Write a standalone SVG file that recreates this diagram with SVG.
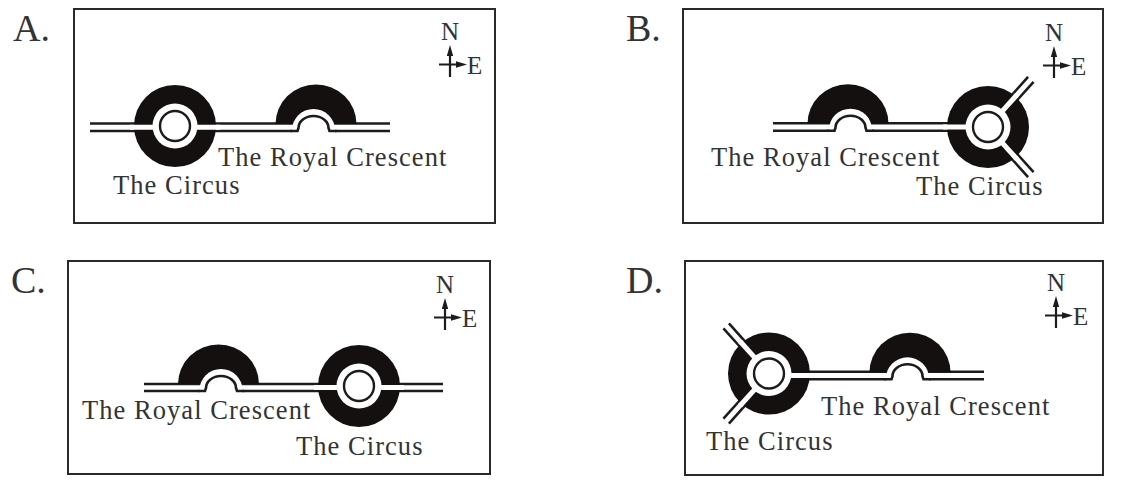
<svg xmlns="http://www.w3.org/2000/svg" xmlns:xlink="http://www.w3.org/1999/xlink" width="1125" height="485" viewBox="0 0 1125 485">
<style>
text{font-family:"Liberation Serif","Times New Roman",serif;fill:#333}
.lab{font-size:26.500px;letter-spacing:1.050px}
.let{font-size:38px}
.cmp{font-size:25px}
.frame{fill:none;stroke:#2a2a2a;stroke-width:2}
.road{fill:none;stroke:#1c1c1c;stroke-width:2.600}
.k{fill:#141010}
.w{fill:#fff}
.gap{stroke:#fff;stroke-width:5;fill:none}
.thin{fill:#fff;stroke:#1c1c1c;stroke-width:2.400}
.arch{fill:none;stroke:#1c1c1c;stroke-width:2.600}
.cl{stroke:#1c1c1c;stroke-width:2.200;fill:none}
</style>
<defs>
<g id="circus">
<circle class="k" r="41"/>
<circle class="w" r="22.500"/>
<circle class="thin" r="15"/>
</g>
<path id="dome" class="k" d="M-40.500-7A40.500 39.500 0 0 1 40.500-7Z"/>
<g id="arch">
<path class="w" d="M-21.500 2V-1A21.500 21 0 0 1 21.500-1V2Z"/>
<path class="arch" d="M-23 0H-16L-15-3A15 12 0 0 1 15-3L16 0H23"/>
</g>
<g id="compass">
<path class="cl" d="M0 8V32M-11 19.500H8"/>
<path fill="#1c1c1c" d="M0 0L3.200 11H-3.200ZM17 19.500L6 16.300V22.700Z"/>
</g>
<g id="spoke">
<line class="road" x1="40" y1="-3.700" x2="64" y2="-3.700"/>
<line class="road" x1="40" y1="3.700" x2="64" y2="3.700"/>
</g>
<line id="spokegap" class="gap" x1="20" y1="0" x2="43" y2="0"/>
</defs>
<rect width="1125" height="485" fill="#fff"/>
<g id="connectors">
<path class="road" d="M90 123.500H140M90 131H140M210 123.500H390M210 131H390"/>
<path class="road" d="M773 123.300H950M773 130.700H950"/>
<path class="road" d="M144 384H325M144 391H325M395 384H443M395 391H443"/>
<path class="road" d="M805 371.700H984M805 379.300H984"/>
<use href="#spoke" transform="translate(988 127) rotate(-48)"/>
<use href="#spoke" transform="translate(988 127) rotate(48)"/>
<use href="#spoke" transform="translate(769 373.500) rotate(-132)"/>
<use href="#spoke" transform="translate(769 373.500) rotate(132)"/>
</g>
<g id="panel-a">
<rect class="frame" x="74" y="9" width="421" height="214"/>
<text class="let" x="13" y="41">A.</text>
<g id="a-circus">
<use href="#circus" x="175" y="126"/>
<path class="gap" d="M130 127.300H155M195 127.300H220"/>
<text class="lab" x="113" y="194">The Circus</text>
</g>
<g id="a-crescent">
<use href="#dome" x="316" y="131"/>
<use href="#arch" x="313.500" y="131"/>
<text class="lab" x="218" y="166">The Royal Crescent</text>
</g>
<g id="a-compass">
<use href="#compass" x="450" y="45"/>
<text class="cmp" x="450" y="40" text-anchor="middle">N</text>
<text class="cmp" x="467" y="74">E</text>
</g>
</g>
<g id="panel-b">
<rect class="frame" x="683" y="9" width="420" height="214"/>
<text class="let" x="626" y="41">B.</text>
<g id="b-circus">
<use href="#circus" x="988" y="127"/>
<path class="gap" d="M943 127H968"/>
<use href="#spokegap" transform="translate(988 127) rotate(-48)"/>
<use href="#spokegap" transform="translate(988 127) rotate(48)"/>
<text class="lab" x="916" y="195">The Circus</text>
</g>
<g id="b-crescent">
<use href="#dome" x="848" y="130.700"/>
<use href="#arch" x="850.500" y="130.700"/>
<text class="lab" x="711" y="166">The Royal Crescent</text>
</g>
<g id="b-compass">
<use href="#compass" x="1054" y="46"/>
<text class="cmp" x="1054" y="41" text-anchor="middle">N</text>
<text class="cmp" x="1071" y="75">E</text>
</g>
</g>
<g id="panel-c">
<rect class="frame" x="68" y="261" width="422" height="213"/>
<text class="let" x="11" y="293">C.</text>
<g id="c-circus">
<use href="#circus" x="359" y="386"/>
<path class="gap" d="M314 387.500H339M379 387.500H404"/>
<text class="lab" x="296" y="455">The Circus</text>
</g>
<g id="c-crescent">
<use href="#dome" x="218.500" y="391"/>
<use href="#arch" x="221" y="391"/>
<text class="lab" x="82" y="419">The Royal Crescent</text>
</g>
<g id="c-compass">
<use href="#compass" x="445" y="298"/>
<text class="cmp" x="445" y="293" text-anchor="middle">N</text>
<text class="cmp" x="462" y="327">E</text>
</g>
</g>
<g id="panel-d">
<rect class="frame" x="685" y="261" width="418" height="214"/>
<text class="let" x="626" y="293">D.</text>
<g id="d-circus">
<use href="#circus" x="769" y="373.500"/>
<path class="gap" d="M789 375.500H814"/>
<use href="#spokegap" transform="translate(769 373.500) rotate(-132)"/>
<use href="#spokegap" transform="translate(769 373.500) rotate(132)"/>
<text class="lab" x="706" y="450">The Circus</text>
</g>
<g id="d-crescent">
<use href="#dome" x="910" y="379.300"/>
<use href="#arch" x="907.500" y="379.300"/>
<text class="lab" x="821" y="415">The Royal Crescent</text>
</g>
<g id="d-compass">
<use href="#compass" x="1056" y="296"/>
<text class="cmp" x="1056" y="291" text-anchor="middle">N</text>
<text class="cmp" x="1073" y="325">E</text>
</g>
</g>
</svg>
